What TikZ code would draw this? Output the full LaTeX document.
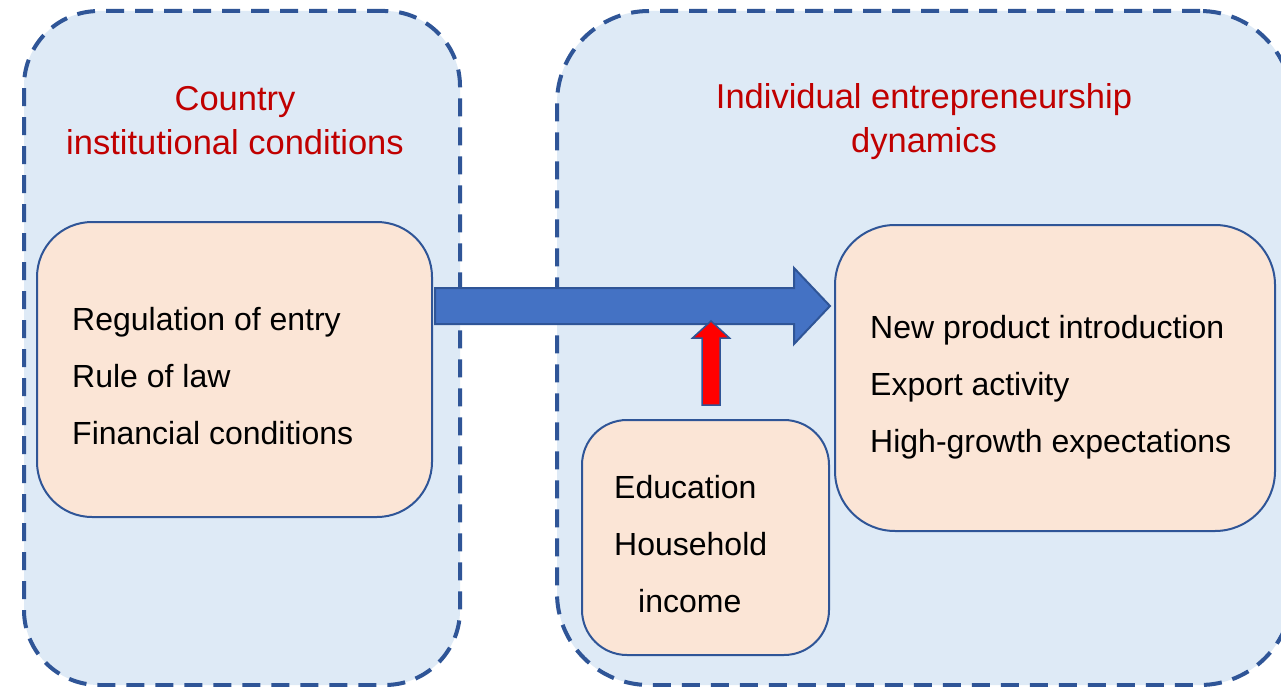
\documentclass[tikz,border=0pt]{standalone}
\usepackage{fontspec}
\setmainfont{Liberation Sans}
\usetikzlibrary{calc}
\definecolor{grpfill}{RGB}{222,234,246}
\definecolor{grpline}{RGB}{47,85,151}
\definecolor{boxfill}{RGB}{251,229,214}
\definecolor{ttl}{RGB}{192,0,0}
\definecolor{arrblue}{RGB}{68,114,196}
\begin{document}
\begin{tikzpicture}[x=1pt,y=-1pt,
  group/.style={draw=grpline, fill=grpfill, line width=4pt,
    dash pattern=on 18pt off 11pt, inner sep=0pt, outer sep=0pt},
  inbox/.style={draw=grpline, fill=boxfill, line width=2pt, inner sep=0pt, outer sep=0pt},
  ttltext/.style={text=ttl, font=\fontsize{34.5}{44}\selectfont, align=center, inner sep=0pt},
  item/.style={font=\fontsize{32}{57}\selectfont, align=left, inner sep=0pt, anchor=west},
  bigarrow/.style={draw=grpline, fill=arrblue, line width=2pt, line join=miter},
  redarrow/.style={draw=grpline, fill=red, line width=1.5pt, line join=miter}
]
\clip (0,0) rectangle (1281,687);
\fill[white] (0,0) rectangle (1281,687);
% groups
\node[group, rounded corners=75pt, minimum width=436pt, minimum height=674pt] (gL) at (242,348) {};
\node[group, rounded corners=92pt, minimum width=735pt, minimum height=674pt] (gR) at (924.5,348) {};
% titles
\node[ttltext] (tL) at (235,121) {Country\\institutional conditions};
\node[ttltext] (tR) at (924,122) {Individual entrepreneurship\\dynamics};
% inner boxes
\node[inbox, rounded corners=55pt, minimum width=395pt, minimum height=295pt] (inst) at (234.5,369.5) {};
\node[inbox, rounded corners=60pt, minimum width=440pt, minimum height=306pt] (outb) at (1055,378) {};
\node[inbox, rounded corners=45pt, minimum width=247pt, minimum height=235pt] (edu) at (705.5,537.5) {};
% texts
\node[item] (instT) at (72,376) {Regulation of entry\\Rule of law\\Financial conditions};
\node[item] (outT) at (870,387) {New product introduction\\Export activity\\High-growth expectations};
\node[item] (eduT) at (614,544) {Education\\Household\\\hspace*{24pt}income};
% big arrow
\coordinate (ay) at (0,306);
\coordinate (bS) at ($(inst.east |- ay)+(3,0)$);
\coordinate (bT) at ($(outb.west |- ay)+(-5,0)$);
\draw[bigarrow] ($(bS)+(0,-18)$) -- ($(bT)+(-36,-18)$) -- ($(bT)+(-36,-38)$) -- (bT)
  -- ($(bT)+(-36,38)$) -- ($(bT)+(-36,18)$) -- ($(bS)+(0,18)$) -- cycle;
% red arrow
\coordinate (rB) at ($(edu.north)+(5.5,-15)$);
\coordinate (rT) at ($(rB)+(0,-84)$);
\draw[redarrow] ($(rB)+(-9,0)$) -- ($(rT)+(-9,17)$) -- ($(rT)+(-18.5,17)$) -- (rT)
  -- ($(rT)+(18.5,17)$) -- ($(rT)+(9,17)$) -- ($(rB)+(9,0)$) -- cycle;
\end{tikzpicture}
\end{document}
